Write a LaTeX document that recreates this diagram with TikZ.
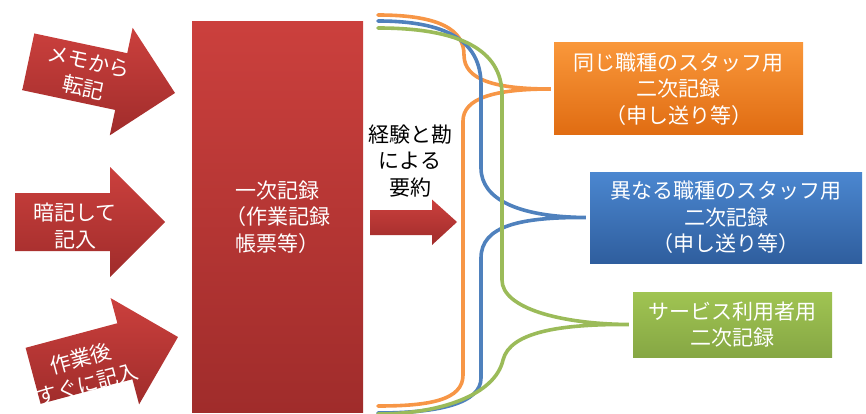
\documentclass[tikz,border=0pt]{standalone}
\usepackage{fontspec}
\newfontfamily\cjk{Noto Sans CJK JP}
\definecolor{redT}{HTML}{CB403D}
\definecolor{redB}{HTML}{A02C2B}
\definecolor{orangeL}{HTML}{F79646}
\definecolor{blueL}{HTML}{4F81BD}
\definecolor{greenL}{HTML}{9BBB59}
\definecolor{orT}{HTML}{F9973A}
\definecolor{orB}{HTML}{E06C12}
\definecolor{blT}{HTML}{4B87D0}
\definecolor{blB}{HTML}{2F5E9E}
\definecolor{grT}{HTML}{A0C452}
\definecolor{grB}{HTML}{86A744}
\begin{document}
\begin{tikzpicture}[x=1pt,y=-1pt,
  txt/.style={font=\cjk\fontsize{21}{26.5}\selectfont, align=center, text=white, inner sep=0pt},
  darktxt/.style={txt, text=black},
  brace/.style={line width=3.6pt, line cap=round},
  redfill/.style={top color=redT, bottom color=redB, draw=none},
  box/.style={txt, draw=none}]
\useasboundingbox (0,0) rectangle (866,414);

% big input arrows
\begin{scope}[shift={(175,93)}, rotate=-12]
  \path[redfill] (0,0) -- (-55,-55) -- (-55,-29) -- (-150,-29) -- (-150,29) -- (-55,29) -- (-55,55) -- cycle;
\end{scope}
\node[txt, rotate=-12] (a1) at (86,75) {メモから\\転記};

\begin{scope}[shift={(165,222)}]
  \path[redfill] (0,0) -- (-55,-55) -- (-55,-29) -- (-150,-29) -- (-150,29) -- (-55,29) -- (-55,55) -- cycle;
\end{scope}
\node[txt] (a2) at (75,226) {暗記して\\記入};

\begin{scope}[shift={(178,337)}, rotate=15]
  \path[redfill] (0,0) -- (-55,-55) -- (-55,-29) -- (-150,-29) -- (-150,29) -- (-55,29) -- (-55,55) -- cycle;
\end{scope}
\node[txt, rotate=15] (a3) at (84,371) {作業後\\すぐに記入};

% main record
\node[box, redfill, minimum width=171pt, minimum height=390pt] (main) at (277.5,217) {一次記録\\（作業記録\\帳票等）};

% summary arrow and label
\path[redfill] (457,222) -- (432,199.5) -- (432,210) -- (370,210) -- (370,235) -- (432,235) -- (432,245) -- cycle;
\node[darktxt] (lab) at (410,161) {経験と勘\\による\\要約};

% output boxes
\node[box, top color=orT, bottom color=orB, minimum width=249pt, minimum height=92pt] (ob) at (678.5,89) {同じ職種のスタッフ用\\二次記録\\（申し送り等）};
\node[box, top color=blT, bottom color=blB, minimum width=272pt, minimum height=91pt] (bb) at (726,217.5) {異なる職種のスタッフ用\\二次記録\\（申し送り等）};
\node[box, top color=grT, bottom color=grB, minimum width=199pt, minimum height=65pt] (gb) at (732.5,324.5) {サービス利用者用\\二次記録};

% braces
\coordinate (o1) at (378,15);
\coordinate (o2) at (378,406);
\coordinate (b1) at (378,21);
\coordinate (b2) at (378,413);
\coordinate (g1) at (378,28);
\coordinate (g2) at (378,414);
\coordinate (ot) at ([xshift=-3pt]ob.west);
\coordinate (bt) at ([xshift=-4pt]bb.west);
\coordinate (gt) at ([xshift=-4pt]gb.west);

\draw[brace, orangeL] (o1) .. controls (440,15) and (464,30) .. (464,55)
  .. controls (464,80) and (495,89) .. (ot)
  .. controls (495,89) and (463,98) .. (463,121) -- (463,375)
  .. controls (463,400) and (430,406) .. (o2);
\draw[brace, blueL] (b1) .. controls (445,21) and (481,40) .. (481,85) -- (481,168)
  .. controls (481,200) and (520,217) .. (bt)
  .. controls (520,217) and (481,226) .. (481,258) -- (481,378)
  .. controls (481,403) and (440,413) .. (b2);
\draw[brace, greenL] (g1) .. controls (460,28) and (502,50) .. (502,95) -- (502,280)
  .. controls (502,308) and (560,324) .. (gt)
  .. controls (560,324) and (510,332) .. (503,360)
  .. controls (495,395) and (440,414) .. (g2);
\end{tikzpicture}
\end{document}
